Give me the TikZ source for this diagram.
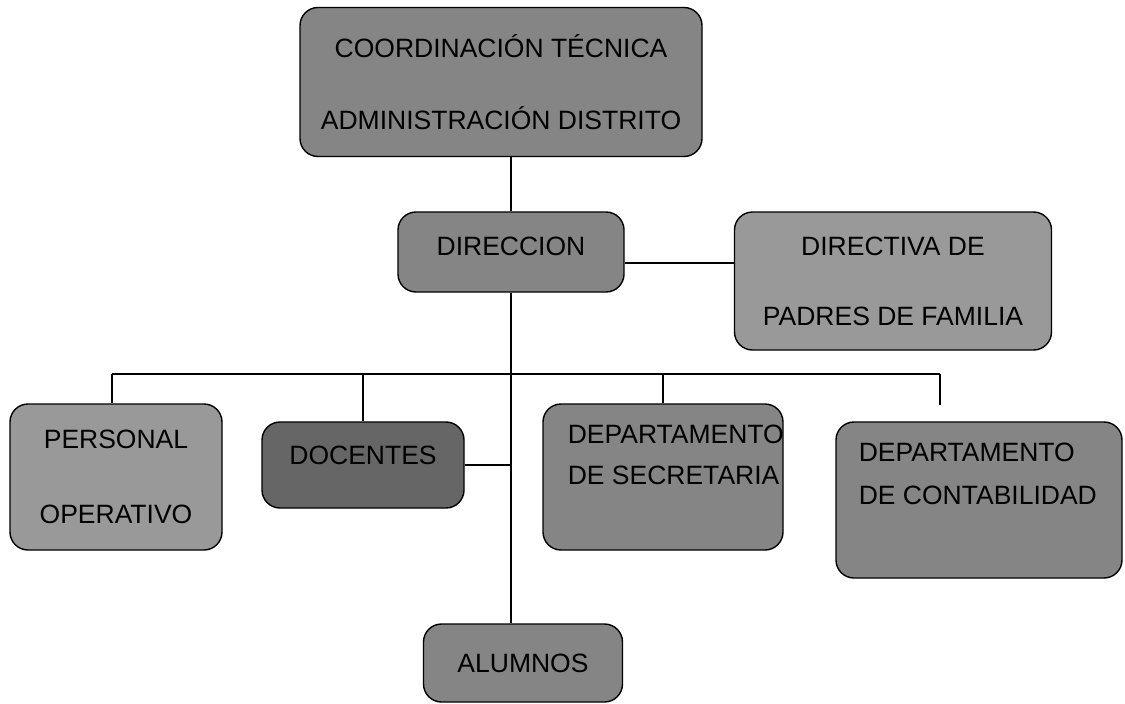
\documentclass[tikz,border=0pt]{standalone}
\usepackage{fontspec}
\setmainfont{Liberation Sans}
\usepackage{tikz}

\begin{document}
\begin{tikzpicture}[x=1pt, y=-1pt, line width=1.6pt,
    every node/.style={font=\fontsize{26.5}{30}\selectfont, inner sep=0pt},
    box/.style={draw, rounded corners=18pt, line width=1.4pt, align=center},
    dark/.style={box, fill=black!60},
    mid/.style={box, fill=black!48},
    light/.style={box, fill=black!40}]
    \useasboundingbox (0,0) rectangle (1125,704);
    \node[mid, minimum width=402pt, minimum height=149pt] (top) at (501,82) {COORDINACIÓN TÉCNICA\\[42pt]ADMINISTRACIÓN DISTRITO};
    \node[mid, minimum width=226pt, minimum height=80pt] (dir) at (511,252) {DIRECCION\\[-18pt]};
    \node[light, minimum width=317pt, minimum height=138pt] (padres) at (893,281) {DIRECTIVA DE\\[40pt]PADRES DE FAMILIA};
    \node[light, minimum width=212pt, minimum height=146pt] (personal) at (116,477) {PERSONAL\\[45pt]OPERATIVO};
    \node[dark, minimum width=202pt, minimum height=86pt] (docentes) at (363,465) {DOCENTES\\[-10pt]};
    \node[mid, minimum width=240pt, minimum height=146pt] (secretaria) at (663,477) {};
    \node[anchor=north west, align=left] (sectext) at (567,424) {DEPARTAMENTO\\[11pt]DE SECRETARIA};
    \node[mid, minimum width=286pt, minimum height=156pt] (contab) at (979,500) {};
    \node[anchor=north west, align=left] (contabtext) at (858,442) {DEPARTAMENTO\\[13pt]DE CONTABILIDAD};
    \node[mid, minimum width=199pt, minimum height=78pt] (alumnos) at (523,663) {ALUMNOS};
    \coordinate (busl) at (112,374);
    \coordinate (busr) at (940,374);
    \coordinate (stub) at (940,405);
    \draw (dir.north) -- (dir.north |- top.south);
    \draw (dir.south) -- (dir.south |- alumnos.north);
    \draw ([yshift=-11pt]dir.east) -- ([yshift=-11pt]dir.east -| padres.west);
    \draw (busl) -- (busr);
    \draw (busl) -- (busl |- personal.north);
    \draw (docentes.north) -- (docentes.north |- busl);
    \draw (secretaria.north) -- (secretaria.north |- busl);
    \draw (busr) -- (stub);
    \draw (docentes.east) -- (docentes.east -| dir.south);
  \end{tikzpicture}
\end{document}
